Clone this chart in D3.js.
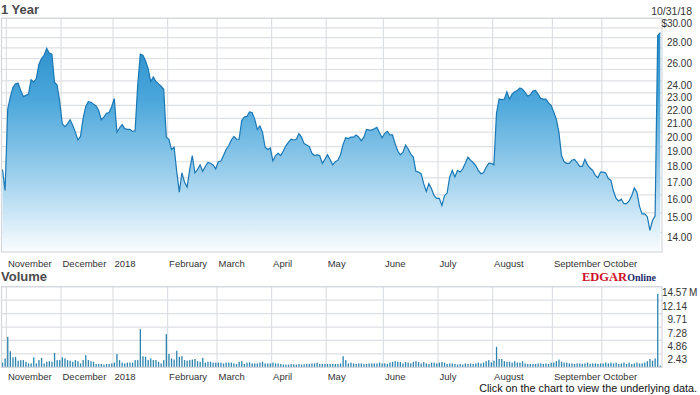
<!DOCTYPE html>
<html>
<head>
<meta charset="utf-8">
<script src="https://cdn.jsdelivr.net/npm/d3@7"></script>
<style>
  body { margin: 0; background: #fff; }
  svg text { font-family: "Liberation Sans", Arial, sans-serif; fill: #333; }
  .title { font-weight: bold; font-size: 13px; fill: #4a4a4a; }
  .grid line { stroke: #dcdfe3; stroke-width: 1.2; }
  .frame { fill: none; stroke: #d4d8dd; stroke-width: 1.2; }
</style>
</head>
<body>
<div id="chart"></div>
<script>
// trading-day series, 10/30/17 .. 10/31/18
const startDate = '2017-10-30'
const endDate = '2018-10-31'
const holidays = ['2017-11-23', '2017-12-25', '2018-01-01', '2018-01-15', '2018-02-19',
  '2018-03-30', '2018-05-28', '2018-07-04', '2018-09-03']
const monthLabels = ['November', 'December', '2018', 'February', 'March', 'April', 'May',
  'June', 'July', 'August', 'September', 'October']

const prices = [
  17.5, 16.25, 21.7, 22.65, 23.45, 23.75, 23.8, 23.2, 22.7, 22.8,
  22.9, 24.1, 23.9, 24.2, 25.45, 26.0, 26.3, 26.95, 26.5, 26.4,
  23.9, 23.65, 22.3, 20.6, 20.4, 20.6, 20.9, 20.5, 20.0, 19.45,
  19.7, 21.0, 21.9, 22.3, 22.25, 22.1, 21.95, 21.6, 20.9, 21.1,
  21.4, 21.45, 21.9, 22.55, 20.0, 20.3, 20.55, 20.25, 20.2, 20.2,
  20.05, 20.1, 23.65, 26.4, 26.3, 25.8, 25.1, 23.95, 24.35, 23.95,
  23.75, 23.55, 23.3, 19.65, 19.5, 18.8, 18.95, 17.4, 16.15, 17.3,
  16.75, 16.45, 17.5, 18.4, 17.3, 17.5, 17.8, 17.4, 17.7, 17.95,
  17.9, 17.8, 17.55, 18.0, 18.05, 18.4, 18.8, 19.05, 19.45, 19.7,
  19.5, 19.5, 20.85, 21.1, 21.15, 21.5, 21.45, 20.95, 20.2, 20.45,
  20.0, 18.95, 18.8, 18.9, 18.05, 18.4, 18.55, 18.4, 18.7, 19.05,
  19.3, 19.5, 19.45, 19.5, 19.9, 19.65, 19.2, 19.1, 19.0, 18.55,
  18.4, 18.45, 18.4, 17.9, 18.15, 18.45, 18.15, 17.8, 18.0, 18.1,
  18.45, 19.15, 19.6, 19.55, 19.65, 19.65, 19.8, 19.65, 19.4, 19.65,
  20.2, 20.15, 20.15, 20.25, 20.35, 19.95, 19.6, 19.9, 20.05, 19.8,
  19.8, 19.2, 18.7, 18.45, 18.6, 19.1, 18.85, 18.5, 18.3, 17.4,
  17.35, 17.25, 16.65, 16.2, 16.65, 16.35, 15.95, 15.8, 15.8, 15.4,
  15.95, 16.1, 17.05, 17.45, 17.05, 17.45, 17.35, 17.55, 17.9, 18.3,
  18.1, 17.95, 17.75, 17.45, 17.25, 17.3, 17.65, 17.9, 17.9, 17.8,
  21.4, 22.5, 22.45, 22.5, 23.1, 22.5, 22.9, 23.1, 23.2, 23.4,
  23.3, 23.05, 22.75, 22.85, 23.15, 23.2, 22.9, 22.55, 22.5, 22.5,
  22.2, 22.0, 21.5, 20.95, 20.0, 18.4, 18.0, 17.9, 17.9, 18.1,
  18.15, 17.95, 17.7, 17.7, 18.15, 17.8, 17.6, 17.45, 17.15, 17.0,
  17.35, 17.35, 17.3, 16.95, 16.85, 16.2, 15.8, 15.65, 15.75, 15.5,
  15.5, 15.65, 15.95, 16.4, 16.15, 15.35, 14.95, 14.95, 14.8, 14.1,
  14.6, 14.85, 28.2, 28.5
]

// volume in millions of shares
const volumes = [
  0.85, 1.6, 5.5, 2.9, 1.8, 1.9, 1.2, 1.3, 1.3, 1.0,
  0.7, 0.7, 1.8, 0.7, 1.3, 1.7, 0.7, 1.0, 1.1, 1.0,
  2.6, 1.3, 1.3, 1.8, 1.6, 1.3, 1.2, 1.0, 1.3, 1.1,
  0.7, 1.3, 2.2, 1.3, 1.1, 1.0, 0.6, 0.6, 0.6, 0.5,
  0.6, 0.6, 0.7, 0.85, 2.4, 1.3, 0.85, 0.7, 0.85, 0.85,
  0.85, 1.3, 1.3, 6.9, 2.0, 1.9, 1.3, 1.6, 1.3, 1.3,
  1.0, 0.7, 1.3, 6.0, 2.4, 1.6, 1.4, 3.0, 1.9, 2.0,
  1.3, 1.2, 1.3, 1.4, 1.5, 1.1, 1.0, 1.7, 0.85, 1.0,
  1.0, 0.85, 0.85, 0.85, 0.85, 0.7, 0.85, 0.85, 0.85, 0.7,
  0.6, 1.0, 1.1, 0.6, 0.85, 0.9, 0.7, 0.7, 0.7, 0.85,
  1.0, 0.7, 0.7, 0.7, 0.85, 0.7, 0.7, 0.6, 0.5, 0.5,
  0.5, 0.6, 0.55, 0.5, 0.6, 0.5, 0.55, 0.6, 0.6, 0.7,
  0.7, 0.85, 0.6, 0.6, 0.6, 0.6, 0.6, 0.6, 0.6, 0.6,
  0.7, 2.0, 1.3, 0.7, 0.85, 0.7, 0.6, 0.7, 0.7, 0.6,
  0.6, 0.7, 0.7, 0.7, 0.7, 0.85, 0.7, 0.7, 0.6, 0.85,
  1.0, 1.1, 1.0, 0.95, 0.7, 0.95, 0.85, 0.7, 0.95, 1.1,
  0.95, 0.7, 0.95, 0.7, 0.6, 0.85, 0.85, 0.7, 0.85, 0.95,
  0.85, 0.6, 0.7, 0.7, 0.6, 0.5, 0.6, 0.5, 0.7, 0.6,
  0.7, 0.6, 0.7, 0.85, 0.7, 0.85, 1.1, 1.3, 0.9, 1.2,
  3.7, 1.5, 1.5, 1.1, 1.0, 1.0, 0.85, 1.1, 0.85, 0.85,
  1.1, 0.7, 0.6, 0.6, 0.6, 0.6, 0.7, 0.7, 0.6, 0.7,
  0.6, 0.85, 0.85, 1.1, 1.4, 1.0, 0.85, 0.85, 0.7, 0.7,
  0.6, 0.7, 0.7, 0.6, 0.7, 0.85, 0.6, 0.7, 0.7, 0.6,
  0.7, 0.7, 0.85, 0.7, 0.85, 0.7, 0.85, 0.6, 0.7, 0.85,
  0.6, 0.85, 0.6, 0.7, 0.85, 0.7, 0.7, 0.85, 1.1, 1.5,
  1.2, 1.6, 13.25, 0.3
]

const priceLabels = [30, 28, 26, 24, 23, 22, 21, 20, 19, 18, 17, 16, 15, 14]
const priceGrid = d3.range(14, 31)
const volumeTicks = [2.43, 4.86, 7.28, 9.71, 12.14, 14.57]

// build the trading calendar
let fmt = d3.timeFormat('%Y-%m-%d')
let days = d3.timeDay.range(d3.isoParse(startDate), d3.timeDay.offset(d3.isoParse(endDate), 1))
  .filter(d => d.getDay() != 0 && d.getDay() != 6 && !holidays.includes(fmt(d)))
let monthStarts = days.map((d, i) => i).filter(i => i > 0 && days[i].getMonth() != days[i - 1].getMonth())

let width = 700, height = 395
let px = { left: 1.5, right: 662 }
let priceBox = { top: 18.3, bottom: 252 }
let volBox = { top: 286.7, bottom: 367.3 }

let x = d3.scaleLinear().domain([0, days.length - 1]).range([2.5, 660.3])
let y = d3.scaleLog().domain([14, 30]).range([232.3, priceBox.top])
let yv = d3.scaleLinear().domain([0, 14.57]).range([volBox.bottom, volBox.top])

let svg = d3.select('#chart').append('svg')
  .attr('width', width)
  .attr('height', height)

let grad = svg.append('defs').append('linearGradient')
  .attr('id', 'fill')
  .attr('gradientUnits', 'userSpaceOnUse')
  .attr('x1', 0).attr('x2', 0)
  .attr('y1', priceBox.top).attr('y2', priceBox.bottom)
grad.append('stop').attr('offset', 0).style('stop-color', '#1f86c6')
grad.append('stop').attr('offset', 0.35).style('stop-color', '#4ba7db')
grad.append('stop').attr('offset', 0.7).style('stop-color', '#a4d3ee')
grad.append('stop').attr('offset', 1).style('stop-color', '#fafdff')

// titles
svg.append('text').attr('class', 'title').attr('x', 1).attr('y', 14).text('1 Year')
svg.append('text').attr('class', 'title').attr('x', 1).attr('y', 281).text('Volume')
svg.append('text')
  .attr('x', 692).attr('y', 15)
  .attr('text-anchor', 'end')
  .style('font-size', '10.5px')
  .text(d3.timeFormat('%m/%d/%y')(days[days.length - 1]))

// price panel grid
let pg = svg.append('g').attr('class', 'grid')
pg.selectAll('.h').data(priceGrid).enter().append('line')
  .attr('x1', px.left).attr('x2', px.right)
  .attr('y1', d => y(d)).attr('y2', d => y(d))
pg.selectAll('.v').data(monthStarts).enter().append('line')
  .attr('x1', d => x(d - 0.5)).attr('x2', d => x(d - 0.5))
  .attr('y1', priceBox.top).attr('y2', priceBox.bottom)

// price area and line
svg.append('path')
  .attr('fill', 'url(#fill)')
  .attr('d', d3.area()
    .x((d, i) => x(i))
    .y0(priceBox.bottom)
    .y1(d => y(d))(prices))
svg.append('path')
  .attr('fill', 'none')
  .attr('stroke', '#1b78b4')
  .attr('stroke-width', 1.2)
  .attr('d', d3.line().x((d, i) => x(i)).y(d => y(d))(prices))

svg.append('rect').attr('class', 'frame')
  .attr('x', px.left).attr('y', priceBox.top)
  .attr('width', px.right - px.left).attr('height', priceBox.bottom - priceBox.top)

// price labels sit just under their grid line
svg.append('g').selectAll('text')
  .data(priceLabels).enter().append('text')
  .attr('x', 692)
  .attr('y', d => y(d) + 8.5)
  .attr('text-anchor', 'end')
  .style('font-size', '10px')
  .text((d, i) => (i == 0 ? '$' : '') + d3.format('.2f')(d))

// month labels for both panels
;[priceBox.bottom + 15, volBox.bottom + 13].forEach(ly => {
  svg.append('g').selectAll('text')
    .data(monthStarts).enter().append('text')
    .attr('x', d => x(d - 0.5) + 1.5)
    .attr('y', ly)
    .style('font-size', '9.5px')
    .text((d, i) => monthLabels[i])
})

// volume panel
let vg = svg.append('g').attr('class', 'grid')
vg.selectAll('.h').data([0].concat(volumeTicks)).enter().append('line')
  .attr('x1', px.left).attr('x2', px.right)
  .attr('y1', d => yv(d)).attr('y2', d => yv(d))
vg.selectAll('.v').data(monthStarts).enter().append('line')
  .attr('x1', d => x(d - 0.5)).attr('x2', d => x(d - 0.5))
  .attr('y1', volBox.top).attr('y2', volBox.bottom)

svg.append('g').selectAll('rect')
  .data(volumes).enter().append('rect')
  .attr('x', (d, i) => x(i) - 0.6)
  .attr('width', 1.3)
  .attr('y', d => yv(d))
  .attr('height', d => yv(0) - yv(d))
  .attr('fill', '#2a84ae')

svg.append('rect').attr('class', 'frame')
  .attr('x', px.left).attr('y', volBox.top)
  .attr('width', px.right - px.left).attr('height', volBox.bottom - volBox.top)

svg.append('g').selectAll('text')
  .data(volumeTicks).enter().append('text')
  .attr('x', 687)
  .attr('y', d => yv(d) + 9.5)
  .attr('text-anchor', 'end')
  .style('font-size', '10px')
  .text(d => d3.format('.2f')(d))
svg.append('text')
  .attr('x', 689).attr('y', yv(14.57) + 9.5)
  .style('font-size', '10px')
  .text('M')

// EDGAR Online mark
let logo = svg.append('text').attr('x', 582).attr('y', 280.5)
logo.append('tspan')
  .style('font-family', '"Liberation Serif", serif')
  .style('font-weight', 'bold').style('font-size', '12.5px')
  .style('fill', '#d0102a')
  .text('EDGAR')
logo.append('tspan')
  .style('font-family', '"Liberation Serif", serif')
  .style('font-weight', 'bold').style('font-size', '10px')
  .style('fill', '#1c2d6e')
  .text('Online')

svg.append('text')
  .attr('x', 697).attr('y', 392)
  .attr('text-anchor', 'end')
  .style('font-size', '10.8px')
  .style('fill', '#111')
  .text('Click on the chart to view the underlying data.')
</script>
</body>
</html>
